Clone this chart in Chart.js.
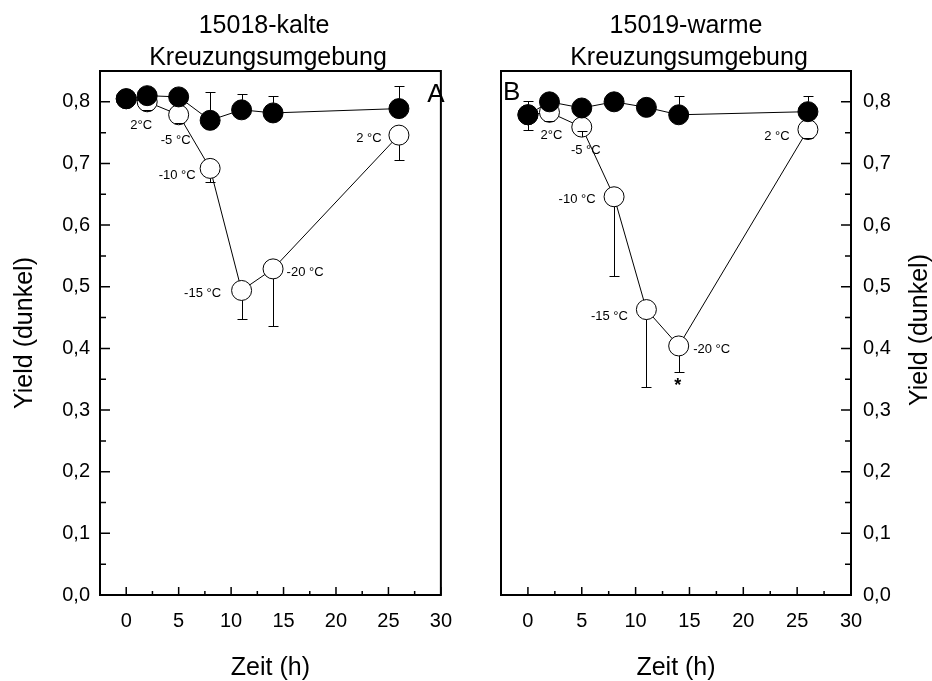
<!DOCTYPE html>
<html>
<head>
<meta charset="utf-8">
<script src="https://cdn.jsdelivr.net/npm/chart.js@4"></script>
<style>
  html, body { margin: 0; padding: 0; background: #fff; }
  #wrap { position: relative; width: 932px; height: 681px; }
  .panel { position: absolute; top: 0; width: 466px; height: 681px; }
  #panelA { left: 0; }
  #panelB { left: 466px; }
</style>
</head>
<body>
<div id="wrap">
  <div class="panel" id="panelA"><canvas id="chartA" width="466" height="681"></canvas></div>
  <div class="panel" id="panelB"><canvas id="chartB" width="466" height="681"></canvas></div>
</div>
<script>
const FONT = "'Liberation Sans', Arial, Helvetica, sans-serif";
Chart.defaults.font.family = FONT;
Chart.defaults.color = '#000';

// shared axes
const hours = [0, 2, 5, 8, 11, 14, 26];
const xTickValues = [0, 5, 10, 15, 20, 25, 30];
const xMinorValues = [2.5, 7.5, 12.5, 17.5, 22.5, 27.5];
const yTickValues = [0, 0.1, 0.2, 0.3, 0.4, 0.5, 0.6, 0.7, 0.8];
const yMinorValues = [0.05, 0.15, 0.25, 0.35, 0.45, 0.55, 0.65, 0.75];

// panel A - 15018 kalte Kreuzungsumgebung
const ctrlA = [0.805, 0.810, 0.808, 0.770, 0.787, 0.782, 0.789];
const ctrlAUp = [0, 0, 0, 0.046, 0.026, 0.027, 0.036];
const frostA = [0.805, 0.800, 0.779, 0.692, 0.494, 0.529, 0.746];
const frostADown = [0, 0.014, 0.013, 0.022, 0.046, 0.093, 0.040];
const tempA = ['', '2°C', '-5 °C', '-10 °C', '-15 °C', '-20 °C', '2 °C'];

// panel B - 15019 warme Kreuzungsumgebung
const ctrlB = [0.779, 0.800, 0.790, 0.800, 0.791, 0.779, 0.784];
const ctrlBUp = [0.022, 0, 0, 0, 0, 0.031, 0.026];
const ctrlBDown = [0.024, 0, 0, 0, 0, 0, 0];
const frostB = [0.779, 0.783, 0.759, 0.646, 0.463, 0.404, 0.755];
const frostBDown = [0, 0.014, 0.007, 0.128, 0.125, 0.043, 0.013];
const tempB = ['', '2°C', '-5 °C', '-10 °C', '-15 °C', '-20 °C', '2 °C'];
const signifB = ['', '', '', '', '', '*', ''];

// label offsets from the marker centre (px)
const offA = [[0, 0], [-6, 24], [-3, 26], [-33, 7], [-39, 3], [32, 4], [-30, 3]];
const offB = [[0, 0], [2, 23], [4, 23], [-37, 3], [-37, 7], [33, 3], [-31, 7]];

const errorBars = {
    id: 'errorBars',
    afterDatasetsDraw(chart) {
        const {ctx, scales: {x, y}} = chart;
        ctx.save();
        ctx.strokeStyle = '#000';
        ctx.lineWidth = 1;
        function bar(px, from, to) {
            ctx.beginPath();
            ctx.moveTo(px, from);
            ctx.lineTo(px, to);
            ctx.moveTo(px - 5, to);
            ctx.lineTo(px + 5, to);
            ctx.stroke();
        }
        chart.data.datasets.forEach(ds => {
            const r = ds.pointRadius;
            ds.data.forEach((p, i) => {
                const px = Math.round(x.getPixelForValue(p.x)) + 0.5;
                const py = y.getPixelForValue(p.y);
                const up = ds.errUp ? ds.errUp[i] : 0;
                const dn = ds.errDown ? ds.errDown[i] : 0;
                if (up) bar(px, py - r, Math.round(y.getPixelForValue(p.y + up)) + 0.5);
                if (dn) bar(px, py + r, Math.round(y.getPixelForValue(p.y - dn)) + 0.5);
            });
        });
        ctx.restore();
    }
};

const frame = {
    id: 'frame',
    afterDatasetsDraw(chart, args, opts) {
        const {ctx, chartArea: a, scales: {x, y}} = chart;
        ctx.save();
        ctx.strokeStyle = '#000';
        ctx.lineWidth = 2;
        ctx.strokeRect(a.left, a.top, a.right - a.left, a.bottom - a.top);
        ctx.lineWidth = 1.5;
        ctx.beginPath();
        xTickValues.forEach(v => {
            const px = x.getPixelForValue(v);
            ctx.moveTo(px, a.bottom); ctx.lineTo(px, a.bottom - 8);
        });
        xMinorValues.forEach(v => {
            const px = x.getPixelForValue(v);
            ctx.moveTo(px, a.bottom); ctx.lineTo(px, a.bottom - 4);
        });
        const edge = opts.side === 'right' ? a.right : a.left;
        const dir = opts.side === 'right' ? -1 : 1;
        yTickValues.forEach(v => {
            const py = y.getPixelForValue(v);
            ctx.moveTo(edge, py); ctx.lineTo(edge + dir * 10, py);
        });
        yMinorValues.forEach(v => {
            const py = y.getPixelForValue(v);
            ctx.moveTo(edge, py); ctx.lineTo(edge + dir * 6, py);
        });
        ctx.stroke();
        ctx.restore();
    }
};

const panelText = {
    id: 'panelText',
    afterDraw(chart, args, o) {
        const ctx = chart.ctx;
        ctx.save();
        ctx.fillStyle = '#000';
        ctx.textAlign = 'center';
        ctx.textBaseline = 'alphabetic';
        ctx.font = '25px ' + FONT;
        o.title.forEach((t, i) => ctx.fillText(t, o.titleX[i], o.titleY[i]));

        ctx.font = '26px ' + FONT;
        ctx.textAlign = o.letterAlign;
        ctx.fillText(o.letter, o.letterX, o.letterY);

        if (o.yTitle) {
            ctx.save();
            ctx.translate(o.yTitleX, o.yTitleY);
            ctx.rotate(-Math.PI / 2);
            ctx.font = '25px ' + FONT;
            ctx.textAlign = 'center';
            ctx.textBaseline = 'middle';
            ctx.fillText(o.yTitle, 0, 0);
            ctx.restore();
        }

        const pts = chart.getDatasetMeta(1).data;
        ctx.textAlign = 'center';
        ctx.textBaseline = 'middle';
        ctx.font = '13px ' + FONT;
        o.temps.forEach((t, i) => {
            if (!t) return;
            ctx.fillText(t, pts[i].x + o.offsets[i][0], pts[i].y + o.offsets[i][1]);
        });
        if (o.marks) {
            ctx.font = 'bold 18px ' + FONT;
            o.marks.forEach((m, i) => {
                if (m) ctx.fillText(m, pts[i].x - 1, pts[i].y + 40);
            });
        }
        ctx.restore();
    }
};

function makePanel(canvasId, p) {
    const left = p.side === 'left';
    return new Chart(document.getElementById(canvasId), {
        type: 'line',
        data: {
            datasets: [{
                label: 'Kontrolle',
                data: hours.map((h, i) => ({x: h, y: p.ctrl[i]})),
                errUp: p.ctrlUp,
                errDown: p.ctrlDown,
                borderColor: '#000',
                borderWidth: 1,
                pointRadius: 10,
                pointBackgroundColor: '#000',
                pointBorderColor: '#000',
                pointBorderWidth: 1
            }, {
                label: 'Frost',
                data: hours.map((h, i) => ({x: h, y: p.frost[i]})),
                errDown: p.frostDown,
                borderColor: '#000',
                borderWidth: 1,
                pointRadius: 10,
                pointBackgroundColor: '#fff',
                pointBorderColor: '#000',
                pointBorderWidth: 1
            }]
        },
        options: {
            responsive: false,
            animation: false,
            events: [],
            layout: {padding: {top: 71, left: left ? 0 : 35, right: left ? 15 : 0, bottom: 0}},
            scales: {
                x: {
                    type: 'linear',
                    position: 'bottom',
                    min: -2.5,
                    max: 30,
                    afterBuildTicks: s => { s.ticks = xTickValues.map(v => ({value: v})); },
                    afterFit: s => { s.height = 86; },
                    grid: {display: false, drawTicks: false},
                    border: {display: false},
                    ticks: {font: {size: 20}, padding: 14, maxRotation: 0, autoSkip: false},
                    title: {display: true, text: 'Zeit (h)', font: {size: 25}, padding: {top: 0, bottom: -2}}
                },
                y: {
                    type: 'linear',
                    position: p.side,
                    min: 0,
                    max: 0.85,
                    afterBuildTicks: s => { s.ticks = yTickValues.map(v => ({value: v})); },
                    afterFit: s => { s.width = left ? 100 : 81; },
                    grid: {display: false, drawTicks: false},
                    border: {display: false},
                    ticks: {
                        font: {size: 20},
                        padding: left ? 10 : 12,
                        callback: v => v.toFixed(1).replace('.', ',')
                    },
                    title: {display: left, text: 'Yield (dunkel)', font: {size: 25}, padding: {top: 10, bottom: 0}}
                }
            },
            plugins: {
                legend: {display: false},
                tooltip: {enabled: false},
                frame: {side: p.side},
                panelText: p.text
            }
        },
        plugins: [frame, errorBars, panelText]
    });
}

makePanel('chartA', {
    side: 'left',
    ctrl: ctrlA, ctrlUp: ctrlAUp, ctrlDown: null,
    frost: frostA, frostDown: frostADown,
    text: {
        title: ['15018-kalte', 'Kreuzungsumgebung'],
        titleX: [264, 268], titleY: [33, 65],
        letter: 'A', letterAlign: 'center', letterX: 436, letterY: 102,
        yTitle: null,
        temps: tempA, offsets: offA, marks: null
    }
});

makePanel('chartB', {
    side: 'right',
    ctrl: ctrlB, ctrlUp: ctrlBUp, ctrlDown: ctrlBDown,
    frost: frostB, frostDown: frostBDown,
    text: {
        title: ['15019-warme', 'Kreuzungsumgebung'],
        titleX: [220, 223], titleY: [33, 65],
        letter: 'B', letterAlign: 'left', letterX: 37, letterY: 100,
        yTitle: 'Yield (dunkel)', yTitleX: 454, yTitleY: 330,
        temps: tempB, offsets: offB, marks: signifB
    }
});
</script>
</body>
</html>
